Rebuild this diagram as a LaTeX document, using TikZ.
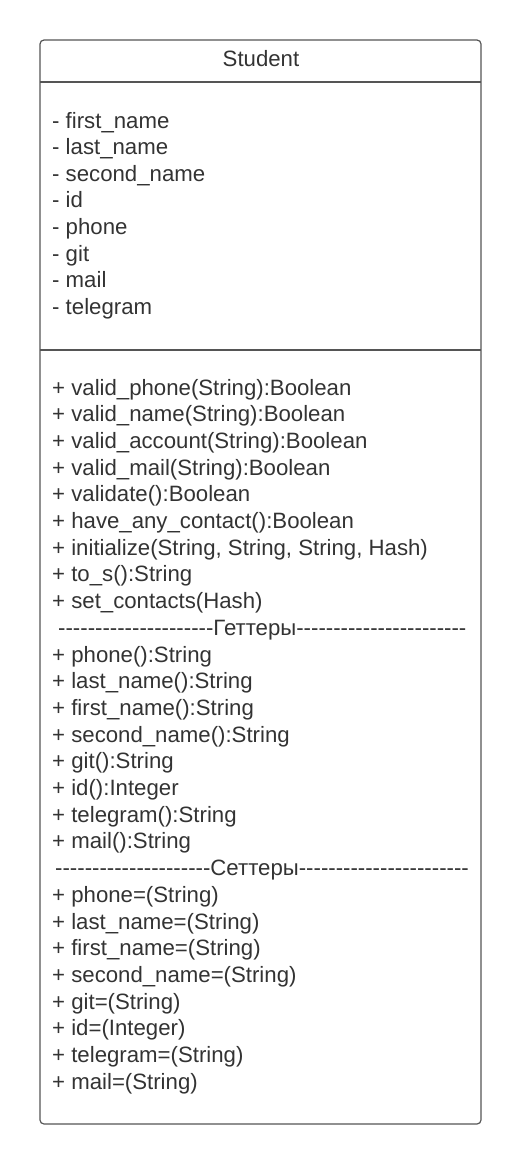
\documentclass[tikz,border=0pt]{standalone}
\usepackage{fontspec}
\setmainfont{Liberation Sans}
\usepackage{tikz}

\definecolor{txtgray}{HTML}{333333}
\definecolor{boxgray}{HTML}{555555}
\newcommand{\dashrun}[1]{\foreach\k in {1,...,#1}{-\kern0pt}}

\begin{document}
\begin{tikzpicture}[x=1pt,y=-1pt,
  line/.style={anchor=base west,inner sep=0pt,yshift=-8pt,text=txtgray,font=\fontsize{22.2}{26}\selectfont},
  title/.style={anchor=base,inner sep=0pt,yshift=-8pt,text=txtgray,font=\fontsize{22.2}{26}\selectfont}]
\useasboundingbox (0,0) rectangle (521,1165);
\draw[boxgray,line width=1.2pt,rounded corners=4pt] (40,40) rectangle (481,1124);
\draw[boxgray,line width=1.2pt] (40,82)--(481,82);
\draw[boxgray,line width=1.2pt] (40,350)--(481,350);
\node[title] (cls) at (261,58) {Student};
% attributes
\node[line] (a1) at (52,120) {- first\_name};
\node[line] (a2) at (52,146.6) {- last\_name};
\node[line] (a3) at (52,173.2) {- second\_name};
\node[line] (a4) at (52,199.8) {- id};
\node[line] (a5) at (52,226.4) {- phone};
\node[line] (a6) at (52,253) {- git};
\node[line] (a7) at (52,279.6) {- mail};
\node[line] (a8) at (52,306.2) {- telegram};
% methods
\node[line] (m1) at (52,387) {+ valid\_phone(String):Boolean};
\node[line] (m2) at (52,413.7) {+ valid\_name(String):Boolean};
\node[line] (m3) at (52,440.4) {+ valid\_account(String):Boolean};
\node[line] (m4) at (52,467.1) {+ valid\_mail(String):Boolean};
\node[line] (m5) at (52,493.8) {+ validate():Boolean};
\node[line] (m6) at (52,520.5) {+ have\_any\_contact():Boolean};
\node[line] (m7) at (52,547.2) {+ initialize(String, String, String, Hash)};
\node[line] (m8) at (52,573.9) {+ to\_s():String};
\node[line] (m9) at (52,600.6) {+ set\_contacts(Hash)};
\node[line] (get) at (58,627.3) {\dashrun{21}Геттеры\dashrun{23}};
\node[line] (g1) at (52,654) {+ phone():String};
\node[line] (g2) at (52,680.7) {+ last\_name():String};
\node[line] (g3) at (52,707.4) {+ first\_name():String};
\node[line] (g4) at (52,734.1) {+ second\_name():String};
\node[line] (g5) at (52,760.8) {+ git():String};
\node[line] (g6) at (52,787.5) {+ id():Integer};
\node[line] (g7) at (52,814.2) {+ telegram():String};
\node[line] (g8) at (52,840.9) {+ mail():String};
\node[line] (set) at (55,867.6) {\dashrun{21}Сеттеры\dashrun{23}};
\node[line] (s1) at (52,894.3) {+ phone=(String)};
\node[line] (s2) at (52,921) {+ last\_name=(String)};
\node[line] (s3) at (52,947.7) {+ first\_name=(String)};
\node[line] (s4) at (52,974.4) {+ second\_name=(String)};
\node[line] (s5) at (52,1001.1) {+ git=(String)};
\node[line] (s6) at (52,1027.8) {+ id=(Integer)};
\node[line] (s7) at (52,1054.5) {+ telegram=(String)};
\node[line] (s8) at (52,1081.2) {+ mail=(String)};
\end{tikzpicture}
\end{document}
